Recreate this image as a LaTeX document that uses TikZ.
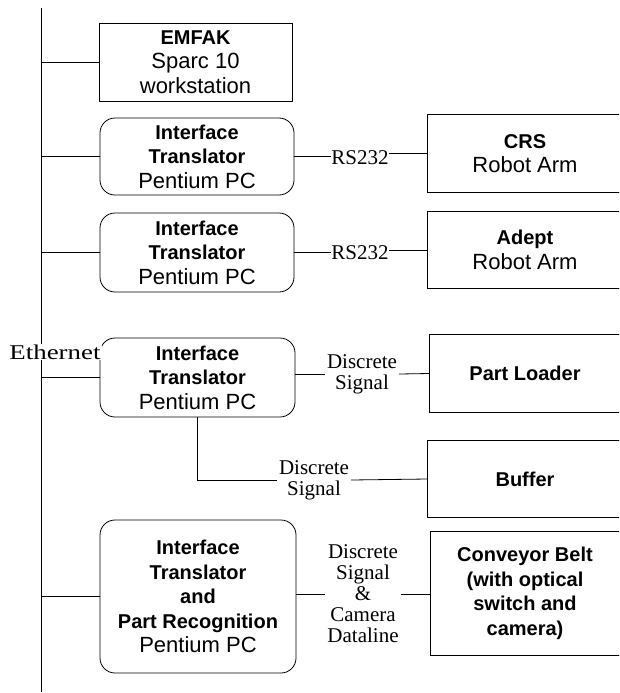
\documentclass[tikz,border=0pt]{standalone}
\usepackage{fontspec}
\usepackage{graphicx}
\setmainfont{Liberation Serif}
\newfontfamily\hv{Liberation Sans}
\begin{document}
\begin{tikzpicture}[x=1pt,y=-1pt,
  box/.style={draw, line width=0.8pt, align=center, inner sep=0pt,
    font=\hv\fontsize{22}{24.5}\selectfont},
  sqbox/.style={box},
  openbox/.style={box, draw=none},
  rbox/.style={box, rounded corners=15pt},
  lbl/.style={align=center, inner sep=2pt, font=\fontsize{21}{21}\selectfont},
  wire/.style={line width=0.8pt}]
\useasboundingbox (0,0) rectangle (619,693);
\clip (0,0) rectangle (619,693);
\newcommand{\bl}[1]{{\fontsize{20}{24.5}\selectfont\bfseries #1}}

% bus
\coordinate (bustop) at (41,8);
\coordinate (busbot) at (41,692);
\draw[wire] (bustop) -- (busbot);

% left column
\node[sqbox, minimum width=193pt, minimum height=78pt] (emfak) at (195.5,62)
  {\bl{EMFAK}\\Sparc 10\\workstation};
\node[rbox, minimum width=194pt, minimum height=77pt] (if1) at (197,156.5)
  {\bl{Interface}\\\bl{Translator}\\Pentium PC};
\node[rbox, minimum width=194pt, minimum height=79pt] (if2) at (197,252.5)
  {\bl{Interface}\\\bl{Translator}\\Pentium PC};
\node[rbox, minimum width=195pt, minimum height=79pt] (if3) at (197.5,377.5)
  {\bl{Interface}\\\bl{Translator}\\Pentium PC};
\node[rbox, minimum width=196pt, minimum height=153pt] (if4) at (198,596.5)
  {\bl{Interface}\\\bl{Translator}\\\bl{and}\\\bl{Part Recognition}\\Pentium PC};

% right column (right edges run off the page)
\node[openbox, minimum width=194pt, minimum height=77pt] (crs) at (525,153.5)
  {\bl{CRS}\\Robot Arm};
\node[openbox, minimum width=194pt, minimum height=76pt] (adept) at (525,250)
  {\bl{Adept}\\Robot Arm};
\node[openbox, minimum width=190pt, minimum height=77pt] (loader) at (525,373.5)
  {\bl{Part Loader}};
\node[openbox, minimum width=194pt, minimum height=76pt] (buffer) at (525,479)
  {\bl{Buffer}};
\node[openbox, minimum width=188pt, minimum height=123pt] (conv) at (525,593.5)
  {\bl{Conveyor Belt}\\\bl{(with optical}\\\bl{switch and}\\\bl{camera)}};
\foreach \n in {crs,adept,loader,buffer,conv}
  \draw[wire] ([xshift=20pt]\n.north east) -| (\n.south west) -- ([xshift=20pt]\n.south east);

% bus connectors
\foreach \n in {emfak,if1,if2,if3,if4}
  \draw[wire] (\n.west) -- (\n.west -| bustop);

% Ethernet label
\node[fill=white, inner sep=1pt, font=\fontsize{21}{21}\selectfont] (eth) at (55,352)
  {\scalebox{1.28}[1]{Ethernet}};

% labels and links
\node[lbl, inner sep=0.5pt] (rs1) at (360,158) {RS232};
\draw[wire] (if1.east) -- (if1.east -| rs1.west);
\draw[wire] (rs1.east |- crs.west) -- (crs.west);

\node[lbl, inner sep=0.5pt] (rs2) at (360,253) {RS232};
\draw[wire] (if2.east) -- (rs2.west |- if2.east);
\draw[wire] (rs2.east |- adept.west) -- (adept.west);

\node[lbl] (ds1) at (362,374) {Discrete\\Signal};
\draw[wire] (if3.east |- ds1.west) -- (ds1.west);
\draw[wire] (ds1.east) -- (loader.west);

\node[lbl] (ds2) at (314,480) {Discrete\\Signal};
\draw[wire] (if3.south) |- (ds2.west);
\draw[wire] (ds2.east) -- (buffer.west);

\node[lbl] (ds3) at (363,594) {Discrete\\Signal\\\&\\Camera\\Dataline};
\draw[wire] (if4.east |- ds3.west) -- (ds3.west);
\draw[wire] (ds3.east) -- (conv.west |- ds3.east);
\end{tikzpicture}
\end{document}
